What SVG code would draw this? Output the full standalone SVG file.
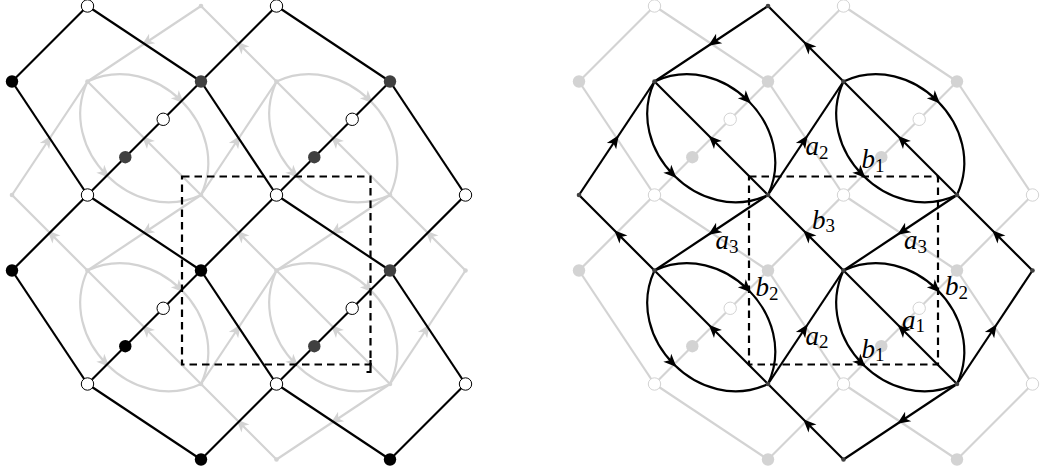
<svg xmlns="http://www.w3.org/2000/svg" width="1041" height="476" viewBox="0 0 1041 476">
<style>
.e{fill:none;stroke:#000;stroke-width:2.2}
.el{fill:none;stroke:#d3d3d3;stroke-width:2.2}
.ak{marker-mid:url(#ak)}
.ag{marker-mid:url(#ag)}
.dash{fill:none;stroke:#000;stroke-width:2.2;stroke-dasharray:7.5 5}
.w{fill:#fff;stroke:#000;stroke-width:1}
.b{fill:#000}
.d{fill:#404040}
.lw{fill:#fff;stroke:#d3d3d3;stroke-width:1}
.lf{fill:#d3d3d3}
.qd{fill:#404040}
.ql{fill:#d3d3d3}
.lbl{font-family:"Liberation Serif","Times New Roman",serif;font-style:italic;font-size:27px;fill:#000}
.sub{font-style:normal;font-size:19px}
</style>
<defs>
<marker id="ak" markerUnits="userSpaceOnUse" markerWidth="18" markerHeight="14" viewBox="-12 -7 18 14" refX="0" refY="0" orient="auto" overflow="visible"><path d="M3.5,0 L-9.5,-5.6 L-6,0 L-9.5,5.6 Z" fill="#000"/></marker>
<marker id="ag" markerUnits="userSpaceOnUse" markerWidth="18" markerHeight="14" viewBox="-12 -7 18 14" refX="0" refY="0" orient="auto" overflow="visible"><path d="M3.5,0 L-9.5,-5.6 L-6,0 L-9.5,5.6 Z" fill="#d3d3d3"/></marker>
</defs>

<!-- ================= LEFT PANEL ================= -->
<g id="left-quiver-connectors">
<path class="el ag" d="M201,6 L144.25,43.75 L87.5,81.5"/>
<path class="el ag" d="M276.5,81.5 L238.75,43.75 L201,6"/>
<path class="el ag" d="M12,195 L49.75,138.25 L87.5,81.5"/>
<path class="el ag" d="M201,195 L144.25,138.25 L87.5,81.5"/>
<path class="el ag" d="M87.5,270.5 L49.75,232.75 L12,195"/>
<path class="el ag" d="M201,195 L238.75,138.25 L276.5,81.5"/>
<path class="el ag" d="M390,195 L333.25,138.25 L276.5,81.5"/>
<path class="el ag" d="M201,195 L144.25,232.75 L87.5,270.5"/>
<path class="el ag" d="M276.5,270.5 L238.75,232.75 L201,195"/>
<path class="el ag" d="M390,195 L333.25,232.75 L276.5,270.5"/>
<path class="el ag" d="M465.5,270.5 L427.75,232.75 L390,195"/>
<path class="el ag" d="M201,384 L144.25,327.25 L87.5,270.5"/>
<path class="el ag" d="M201,384 L238.75,327.25 L276.5,270.5"/>
<path class="el ag" d="M390,384 L333.25,327.25 L276.5,270.5"/>
<path class="el ag" d="M390,384 L427.75,327.25 L465.5,270.5"/>
<path class="el ag" d="M390,384 L333.25,421.75 L276.5,459.5"/>
<path class="el ag" d="M276.5,459.5 L238.75,421.75 L201,384"/>
<path class="el ag" d="M87.5,81.5 c33.85,-15.8 70.13,-4.35 93.99,19.51 c23.86,23.87 35.31,60.14 19.51,93.99"/>
<path class="el ag" d="M87.5,81.5 c-15.8,33.85 -4.35,70.13 19.51,93.99 c23.87,23.86 60.14,35.31 93.99,19.51"/>
<path class="el ag" d="M276.5,81.5 c33.85,-15.8 70.13,-4.35 93.99,19.51 c23.86,23.87 35.31,60.14 19.51,93.99"/>
<path class="el ag" d="M276.5,81.5 c-15.8,33.85 -4.35,70.13 19.51,93.99 c23.87,23.86 60.14,35.31 93.99,19.51"/>
<path class="el ag" d="M87.5,270.5 c33.85,-15.8 70.13,-4.35 93.99,19.51 c23.86,23.87 35.31,60.14 19.51,93.99"/>
<path class="el ag" d="M87.5,270.5 c-15.8,33.85 -4.35,70.13 19.51,93.99 c23.87,23.86 60.14,35.31 93.99,19.51"/>
<path class="el ag" d="M276.5,270.5 c33.85,-15.8 70.13,-4.35 93.99,19.51 c23.86,23.87 35.31,60.14 19.51,93.99"/>
<path class="el ag" d="M276.5,270.5 c-15.8,33.85 -4.35,70.13 19.51,93.99 c23.87,23.86 60.14,35.31 93.99,19.51"/>
</g>
<g id="left-quiver-nodes">
<g id="LQ1"><circle class="ql" cx="201" cy="6" r="2.3"/></g>
<g id="LQ2"><circle class="ql" cx="87.5" cy="81.5" r="2.3"/></g>
<g id="LQ3"><circle class="ql" cx="276.5" cy="81.5" r="2.3"/></g>
<g id="LQ4"><circle class="ql" cx="12" cy="195" r="2.3"/></g>
<g id="LQ5"><circle class="ql" cx="201" cy="195" r="2.3"/></g>
<g id="LQ6"><circle class="ql" cx="390" cy="195" r="2.3"/></g>
<g id="LQ7"><circle class="ql" cx="87.5" cy="270.5" r="2.3"/></g>
<g id="LQ8"><circle class="ql" cx="276.5" cy="270.5" r="2.3"/></g>
<g id="LQ9"><circle class="ql" cx="465.5" cy="270.5" r="2.3"/></g>
<g id="LQ10"><circle class="ql" cx="201" cy="384" r="2.3"/></g>
<g id="LQ11"><circle class="ql" cx="390" cy="384" r="2.3"/></g>
<g id="LQ12"><circle class="ql" cx="276.5" cy="459.5" r="2.3"/></g>
</g>
<g id="left-graph-connectors">
<path class="e" d="M87.5,6 L12,81.5"/>
<path class="e" d="M87.5,6 L201,81.5"/>
<path class="e" d="M276.5,6 L201,81.5"/>
<path class="e" d="M276.5,6 L390,81.5"/>
<path class="e" d="M12,81.5 L87.5,195"/>
<path class="e" d="M201,81.5 L87.5,195"/>
<path class="e" d="M201,81.5 L276.5,195"/>
<path class="e" d="M390,81.5 L276.5,195"/>
<path class="e" d="M390,81.5 L465.5,195"/>
<path class="e" d="M87.5,195 L12,270.5"/>
<path class="e" d="M87.5,195 L201,270.5"/>
<path class="e" d="M276.5,195 L201,270.5"/>
<path class="e" d="M276.5,195 L390,270.5"/>
<path class="e" d="M465.5,195 L390,270.5"/>
<path class="e" d="M12,270.5 L87.5,384"/>
<path class="e" d="M201,270.5 L87.5,384"/>
<path class="e" d="M201,270.5 L276.5,384"/>
<path class="e" d="M390,270.5 L276.5,384"/>
<path class="e" d="M390,270.5 L465.5,384"/>
<path class="e" d="M87.5,384 L201,459.5"/>
<path class="e" d="M276.5,384 L201,459.5"/>
<path class="e" d="M276.5,384 L390,459.5"/>
<path class="e" d="M465.5,384 L390,459.5"/>
</g>
<g id="left-graph-nodes">
<g id="LG1"><circle class="w" cx="87.5" cy="6" r="6.2"/></g>
<g id="LG2"><circle class="w" cx="276.5" cy="6" r="6.2"/></g>
<g id="LG3"><circle class="b" cx="12" cy="81.5" r="6.2"/></g>
<g id="LG4"><circle class="d" cx="201" cy="81.5" r="6.2"/></g>
<g id="LG5"><circle class="d" cx="390" cy="81.5" r="6.2"/></g>
<g id="LG6"><circle class="w" cx="163.2" cy="119.3" r="6.2"/></g>
<g id="LG7"><circle class="d" cx="125.3" cy="157.2" r="6.2"/></g>
<g id="LG8"><circle class="w" cx="352.2" cy="119.3" r="6.2"/></g>
<g id="LG9"><circle class="d" cx="314.3" cy="157.2" r="6.2"/></g>
<g id="LG10"><circle class="w" cx="87.5" cy="195" r="6.2"/></g>
<g id="LG11"><circle class="w" cx="276.5" cy="195" r="6.2"/></g>
<g id="LG12"><circle class="w" cx="465.5" cy="195" r="6.2"/></g>
<g id="LG13"><circle class="b" cx="12" cy="270.5" r="6.2"/></g>
<g id="LG14"><circle class="b" cx="201" cy="270.5" r="6.2"/></g>
<g id="LG15"><circle class="d" cx="390" cy="270.5" r="6.2"/></g>
<g id="LG16"><circle class="w" cx="163.2" cy="308.3" r="6.2"/></g>
<g id="LG17"><circle class="b" cx="125.3" cy="346.2" r="6.2"/></g>
<g id="LG18"><circle class="w" cx="352.2" cy="308.3" r="6.2"/></g>
<g id="LG19"><circle class="d" cx="314.3" cy="346.2" r="6.2"/></g>
<g id="LG20"><circle class="w" cx="87.5" cy="384" r="6.2"/></g>
<g id="LG21"><circle class="w" cx="276.5" cy="384" r="6.2"/></g>
<g id="LG22"><circle class="w" cx="465.5" cy="384" r="6.2"/></g>
<g id="LG23"><circle class="b" cx="201" cy="459.5" r="6.2"/></g>
<g id="LG24"><circle class="b" cx="390" cy="459.5" r="6.2"/></g>
</g>
<g id="left-domain">
<path class="dash" d="M182,176.5 H370.5 V364.5 H182 Z"/>
<path fill="none" stroke="#000" stroke-width="2.2" d="M366.5,372 H370.5 V360"/>
</g>

<!-- ================= RIGHT PANEL ================= -->
<g id="right-graph-connectors">
<path class="el" d="M654.5,6 L579,81.5"/>
<path class="el" d="M654.5,6 L768,81.5"/>
<path class="el" d="M843.5,6 L768,81.5"/>
<path class="el" d="M843.5,6 L957,81.5"/>
<path class="el" d="M579,81.5 L654.5,195"/>
<path class="el" d="M768,81.5 L654.5,195"/>
<path class="el" d="M768,81.5 L843.5,195"/>
<path class="el" d="M957,81.5 L843.5,195"/>
<path class="el" d="M957,81.5 L1032.5,195"/>
<path class="el" d="M654.5,195 L579,270.5"/>
<path class="el" d="M654.5,195 L768,270.5"/>
<path class="el" d="M843.5,195 L768,270.5"/>
<path class="el" d="M843.5,195 L957,270.5"/>
<path class="el" d="M1032.5,195 L957,270.5"/>
<path class="el" d="M579,270.5 L654.5,384"/>
<path class="el" d="M768,270.5 L654.5,384"/>
<path class="el" d="M768,270.5 L843.5,384"/>
<path class="el" d="M957,270.5 L843.5,384"/>
<path class="el" d="M957,270.5 L1032.5,384"/>
<path class="el" d="M654.5,384 L768,459.5"/>
<path class="el" d="M843.5,384 L768,459.5"/>
<path class="el" d="M843.5,384 L957,459.5"/>
<path class="el" d="M1032.5,384 L957,459.5"/>
</g>
<g id="right-graph-nodes">
<g id="RG1"><circle class="lw" cx="654.5" cy="6" r="6.2"/></g>
<g id="RG2"><circle class="lw" cx="843.5" cy="6" r="6.2"/></g>
<g id="RG3"><circle class="lf" cx="579" cy="81.5" r="6.2"/></g>
<g id="RG4"><circle class="lf" cx="768" cy="81.5" r="6.2"/></g>
<g id="RG5"><circle class="lf" cx="957" cy="81.5" r="6.2"/></g>
<g id="RG6"><circle class="lw" cx="730.2" cy="119.3" r="6.2"/></g>
<g id="RG7"><circle class="lf" cx="692.3" cy="157.2" r="6.2"/></g>
<g id="RG8"><circle class="lw" cx="919.2" cy="119.3" r="6.2"/></g>
<g id="RG9"><circle class="lf" cx="881.3" cy="157.2" r="6.2"/></g>
<g id="RG10"><circle class="lw" cx="654.5" cy="195" r="6.2"/></g>
<g id="RG11"><circle class="lw" cx="843.5" cy="195" r="6.2"/></g>
<g id="RG12"><circle class="lw" cx="1032.5" cy="195" r="6.2"/></g>
<g id="RG13"><circle class="lf" cx="579" cy="270.5" r="6.2"/></g>
<g id="RG14"><circle class="lf" cx="768" cy="270.5" r="6.2"/></g>
<g id="RG15"><circle class="lf" cx="957" cy="270.5" r="6.2"/></g>
<g id="RG16"><circle class="lw" cx="730.2" cy="308.3" r="6.2"/></g>
<g id="RG17"><circle class="lf" cx="692.3" cy="346.2" r="6.2"/></g>
<g id="RG18"><circle class="lw" cx="919.2" cy="308.3" r="6.2"/></g>
<g id="RG19"><circle class="lf" cx="881.3" cy="346.2" r="6.2"/></g>
<g id="RG20"><circle class="lw" cx="654.5" cy="384" r="6.2"/></g>
<g id="RG21"><circle class="lw" cx="843.5" cy="384" r="6.2"/></g>
<g id="RG22"><circle class="lw" cx="1032.5" cy="384" r="6.2"/></g>
<g id="RG23"><circle class="lf" cx="768" cy="459.5" r="6.2"/></g>
<g id="RG24"><circle class="lf" cx="957" cy="459.5" r="6.2"/></g>
</g>
<g id="right-domain">
<path class="dash" d="M749,176.5 H938 V364.5 H749 Z"/>
</g>
<g id="right-quiver-connectors">
<path class="e ak" d="M768,6 L711.25,43.75 L654.5,81.5"/>
<path class="e ak" d="M843.5,81.5 L805.75,43.75 L768,6"/>
<path class="e ak" d="M579,195 L616.75,138.25 L654.5,81.5"/>
<path class="e ak" d="M768,195 L711.25,138.25 L654.5,81.5"/>
<path class="e ak" d="M654.5,270.5 L616.75,232.75 L579,195"/>
<path class="e ak" d="M768,195 L805.75,138.25 L843.5,81.5"/>
<path class="e ak" d="M957,195 L900.25,138.25 L843.5,81.5"/>
<path class="e ak" d="M768,195 L711.25,232.75 L654.5,270.5"/>
<path class="e ak" d="M843.5,270.5 L805.75,232.75 L768,195"/>
<path class="e ak" d="M957,195 L900.25,232.75 L843.5,270.5"/>
<path class="e ak" d="M1032.5,270.5 L994.75,232.75 L957,195"/>
<path class="e ak" d="M768,384 L711.25,327.25 L654.5,270.5"/>
<path class="e ak" d="M768,384 L805.75,327.25 L843.5,270.5"/>
<path class="e ak" d="M957,384 L900.25,327.25 L843.5,270.5"/>
<path class="e ak" d="M957,384 L994.75,327.25 L1032.5,270.5"/>
<path class="e ak" d="M957,384 L900.25,421.75 L843.5,459.5"/>
<path class="e ak" d="M843.5,459.5 L805.75,421.75 L768,384"/>
<path class="e ak" d="M654.5,81.5 c33.85,-15.8 70.13,-4.35 93.99,19.51 c23.86,23.87 35.31,60.14 19.51,93.99"/>
<path class="e ak" d="M654.5,81.5 c-15.8,33.85 -4.35,70.13 19.51,93.99 c23.87,23.86 60.14,35.31 93.99,19.51"/>
<path class="e ak" d="M843.5,81.5 c33.85,-15.8 70.13,-4.35 93.99,19.51 c23.86,23.87 35.31,60.14 19.51,93.99"/>
<path class="e ak" d="M843.5,81.5 c-15.8,33.85 -4.35,70.13 19.51,93.99 c23.87,23.86 60.14,35.31 93.99,19.51"/>
<path class="e ak" d="M654.5,270.5 c33.85,-15.8 70.13,-4.35 93.99,19.51 c23.86,23.87 35.31,60.14 19.51,93.99"/>
<path class="e ak" d="M654.5,270.5 c-15.8,33.85 -4.35,70.13 19.51,93.99 c23.87,23.86 60.14,35.31 93.99,19.51"/>
<path class="e ak" d="M843.5,270.5 c33.85,-15.8 70.13,-4.35 93.99,19.51 c23.86,23.87 35.31,60.14 19.51,93.99"/>
<path class="e ak" d="M843.5,270.5 c-15.8,33.85 -4.35,70.13 19.51,93.99 c23.87,23.86 60.14,35.31 93.99,19.51"/>
</g>
<g id="right-quiver-nodes">
<g id="RQ1"><circle class="qd" cx="768" cy="6" r="2.3"/></g>
<g id="RQ2"><circle class="qd" cx="654.5" cy="81.5" r="2.3"/></g>
<g id="RQ3"><circle class="qd" cx="843.5" cy="81.5" r="2.3"/></g>
<g id="RQ4"><circle class="qd" cx="579" cy="195" r="2.3"/></g>
<g id="RQ5"><circle class="qd" cx="768" cy="195" r="2.3"/></g>
<g id="RQ6"><circle class="qd" cx="957" cy="195" r="2.3"/></g>
<g id="RQ7"><circle class="qd" cx="654.5" cy="270.5" r="2.3"/></g>
<g id="RQ8"><circle class="qd" cx="843.5" cy="270.5" r="2.3"/></g>
<g id="RQ9"><circle class="qd" cx="1032.5" cy="270.5" r="2.3"/></g>
<g id="RQ10"><circle class="qd" cx="768" cy="384" r="2.3"/></g>
<g id="RQ11"><circle class="qd" cx="957" cy="384" r="2.3"/></g>
<g id="RQ12"><circle class="qd" cx="843.5" cy="459.5" r="2.3"/></g>
</g>
<g id="labels">
<text class="lbl" x="805.5" y="155">a<tspan class="sub" dy="3.5">2</tspan></text>
<text class="lbl" x="861.5" y="168">b<tspan class="sub" dy="3.5">1</tspan></text>
<text class="lbl" x="812" y="228.5">b<tspan class="sub" dy="3.5">3</tspan></text>
<text class="lbl" x="715.5" y="249">a<tspan class="sub" dy="3.5">3</tspan></text>
<text class="lbl" x="904" y="249">a<tspan class="sub" dy="3.5">3</tspan></text>
<text class="lbl" x="755.5" y="296">b<tspan class="sub" dy="3.5">2</tspan></text>
<text class="lbl" x="945" y="295">b<tspan class="sub" dy="3.5">2</tspan></text>
<text class="lbl" x="902" y="328.5">a<tspan class="sub" dy="3.5">1</tspan></text>
<text class="lbl" x="805.5" y="344.5">a<tspan class="sub" dy="3.5">2</tspan></text>
<text class="lbl" x="861.5" y="357.5">b<tspan class="sub" dy="3.5">1</tspan></text>
</g>
</svg>
